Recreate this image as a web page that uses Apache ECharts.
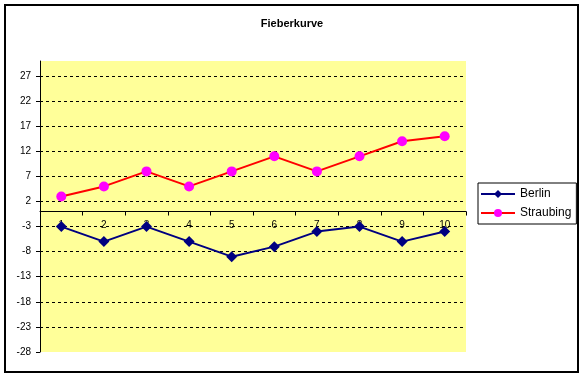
<!DOCTYPE html>
<html>
<head>
<meta charset="utf-8">
<script src="https://cdn.jsdelivr.net/npm/echarts@6/dist/echarts.min.js"></script>
<style>
    html, body { margin: 0; padding: 0; background: #fff; }
    #chart { width: 584px; height: 377px; }
</style>
</head>
<body>
<div id="chart"></div>
<script>
// Daten
var categories = ['1', '2', '3', '4', '5', '6', '7', '8', '9', '10'];
var berlin = [-3, -6, -3, -6, -9, -7, -4, -3, -6, -4];
var straubing = [3, 5, 8, 5, 8, 11, 8, 11, 14, 15];
var yTicks = [-28, -23, -18, -13, -8, -3, 2, 7, 12, 17, 22, 27];

var font = '"Liberation Sans", Arial, sans-serif';

// Zeichenfläche
var gridTop = 61, gridBottom = 25, chartHeight = 377;
var yMin = -28, yMax = 30;
var plotHeight = chartHeight - gridTop - gridBottom;
// Rubrikenachse liegt bei 0 (mit Beschriftung)
var zeroOffset = -plotHeight * (0 - yMin) / (yMax - yMin);

var myChart = echarts.init(document.getElementById('chart'));

var option = {
    animation: false,
    backgroundColor: '#fff',
    title: {
        text: 'Fieberkurve',
        left: 'center',
        top: 13,
        textStyle: { fontFamily: font, fontSize: 11, fontWeight: 'bold', color: '#000' }
    },
    // Rahmen um das Diagramm
    graphic: [{
        type: 'rect',
        shape: { x: 5, y: 5, width: 573, height: 367 },
        style: { fill: 'none', stroke: '#000', lineWidth: 2 },
        silent: true
    }],
    legend: {
        orient: 'vertical',
        left: 478,
        top: 183,
        padding: [5, 5, 5, 2],
        itemWidth: 34,
        itemHeight: 10,
        itemGap: 7,
        borderColor: '#000',
        borderWidth: 1,
        textStyle: { fontFamily: font, fontSize: 12, color: '#000' },
        data: ['Berlin', 'Straubing']
    },
    grid: {
        left: 40,
        top: gridTop,
        right: 118,
        bottom: gridBottom,
        show: true,
        backgroundColor: '#ffff99',
        borderWidth: 0
    },
    xAxis: {
        type: 'category',
        data: categories,
        boundaryGap: true,
        offset: zeroOffset,
        axisLine: { onZero: false, lineStyle: { color: '#000', width: 1 } },
        axisTick: { show: true, length: 4, lineStyle: { color: '#000' } },
        axisLabel: { fontFamily: font, fontSize: 10, color: '#000', margin: 9 },
        splitLine: { show: false }
    },
    yAxis: {
        type: 'value',
        min: yMin,
        max: yMax,
        interval: 5,
        axisLine: { show: true, lineStyle: { color: '#000', width: 1 } },
        axisTick: { show: true, length: 4, lineStyle: { color: '#000' }, customValues: yTicks },
        axisLabel: { fontFamily: font, fontSize: 10, color: '#000', margin: 9, customValues: yTicks },
        splitLine: {
            show: true,
            showMinLine: false,
            lineStyle: { color: '#000', type: [3, 3], width: 1 }
        }
    },
    series: [{
        name: 'Berlin',
        type: 'line',
        data: berlin,
        symbol: 'diamond',
        symbolSize: 11,
        lineStyle: { color: '#000080', width: 2 },
        itemStyle: { color: '#000080' }
    }, {
        name: 'Straubing',
        type: 'line',
        data: straubing,
        symbol: 'circle',
        symbolSize: 10,
        lineStyle: { color: '#ff0000', width: 2 },
        itemStyle: { color: '#ff00ff' }
    }]
};

myChart.setOption(option);
</script>
</body>
</html>
